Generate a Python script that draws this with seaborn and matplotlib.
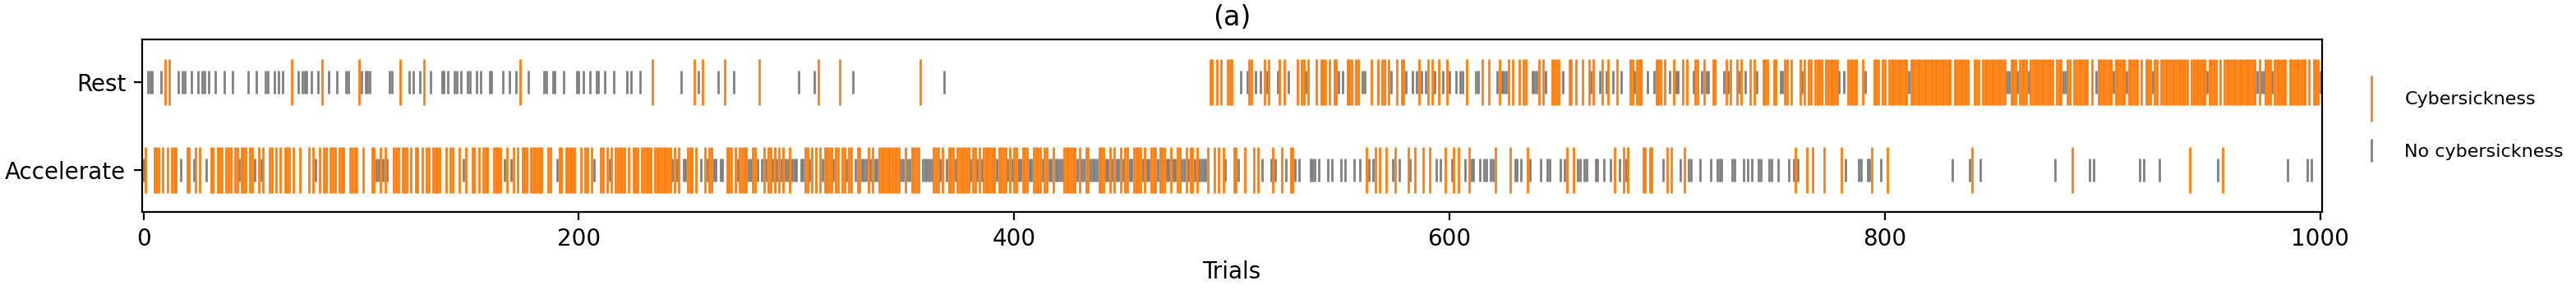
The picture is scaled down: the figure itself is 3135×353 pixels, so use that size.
import matplotlib
matplotlib.use('Agg')
import matplotlib.pyplot as plt
import seaborn as sns
import pandas as pd
from matplotlib.lines import Line2D

conditions = ['Accelerate', 'Rest']          # bottom row, top row
status_names = ['Cybersickness', 'No cybersickness']
palette = {'Cybersickness': '#ff7f0e', 'No cybersickness': 'gray'}
mark_sizes = {'Cybersickness': 400, 'No cybersickness': 100}

# trial numbers; a tuple is a run of consecutive trials
rest_sick = [10, 12, 68, 82, 99, 118, 129, 173, 234, 253, 257, 267, 283, 310, 320, 357,
             (490, 491), 493, 495, (498, 500), (508, 509), 515, 517, 522, 524, 530, (532, 533), 535,
             539, (541, 543), 545, (547, 548), (553, 555), (557, 558), 564, 567, (569, 570), 572, 576,
             (578, 579), 586, 590, 592, 595, 599, 608, 615, 618, 623, 627, 629, 632, (634, 635), 641,
             643, (647, 650), (655, 656), 658, 661, 664, 666, 670, 673, 677, (683, 684), (686, 688),
             (695, 697), 699, 703, 707, 709, (713, 714), 717, (721, 722), 727, 729, 732, 734, 738, 740,
             (744, 746), (749, 750), (754, 755), 757, 761, 763, (765, 766), (768, 771), (773, 778),
             (783, 787), 790, (795, 797), (799, 800), (802, 810), (812, 830), (832, 838), (841, 843),
             (845, 855), (858, 860), (862, 865), (867, 877), (879, 881), (884, 885), (887, 893), 895,
             (898, 904), (906, 910), (912, 916), 918, (920, 922), (924, 925), (927, 939), (941, 947),
             (949, 952), 954, (956, 970), 972, (975, 977), (979, 984), (986, 993), 995, (997, 999)]

rest_ok = [(2, 4), 8, 16, (18, 19), 22, 25, (27, 28), 30, 33, 37, 41, 48, 52, (56, 57), 60, 62, 64,
           71, (73, 75), 77, 80, 85, 89, (93, 94), 100, (102, 104), (113, 114), 122, 124, 127, 132,
           (137, 138), 140, (143, 144), 146, (149, 150), 153, 155, (159, 160), 165, 168, 171, 177,
           (184, 185), (188, 189), 193, (199, 200), 202, 205, (208, 209), 212, 216, 222, 224, 228,
           247, 255, 264, 271, 301, 308, 326, 368, 504, 507, 511, 513, 516, 521, 526, 534, 549, 551,
           (560, 561), 573, 580, 583, 585, 587, 589, 593, 597, 600, 603, (605, 606), (612, 613), 622,
           (624, 626), (638, 640), 644, 652, 665, 669, 672, 675, 679, 685, 691, 694, 701, (704, 705),
           712, 716, (718, 719), 726, 728, 733, 736, 741, (752, 753), 762, 779, 781, 791, 811,
           (856, 857), 861, 866, (882, 883), 897, 905, 911, 923, 948, 971, (973, 974), 978, 1000]

acc_sick = [1, (5, 7), 9, 11, (13, 15), (20, 21), 24, 26, (31, 32), (34, 36), (38, 40), (42, 43),
            (45, 47), (49, 50), 53, 55, (58, 59), 61, 63, (65, 67), 69, 72, 76, 78, 81, (83, 84),
            (86, 88), (90, 92), (95, 98), 101, (105, 106), 109, 111, (115, 117), (119, 121), 123,
            (125, 126), 128, (130, 131), (133, 136), 139, (141, 142), 145, 148, (151, 152), 154,
            (156, 158), (161, 164), 167, 170, 172, (174, 176), (178, 183), (186, 187), (191, 192),
            (194, 198), 201, (203, 204), 206, (210, 211), 213, 215, (217, 221), 223, (225, 227),
            (229, 233), (235, 242), 244, 246, (250, 252), 254, 258, (260, 261), (268, 270), 272,
            (274, 277), (280, 281), 285, (287, 288), 290, 292, 294, 297, (304, 305), 307, 309, 311,
            (313, 316), (318, 319), (321, 322), (324, 325), (328, 329), 333, 335, (338, 347), 350,
            (353, 356), (363, 365), 367, (370, 372), (374, 379), (381, 382), 384, (386, 391),
            (393, 396), 398, (400, 401), (404, 406), (409, 412), (414, 415), 418, (423, 428), 430,
            (433, 434), (439, 441), 444, 446, 449, (451, 452), (455, 458), 460, (463, 465),
            (467, 469), 472, (475, 476), 479, (481, 482), 484, 489, 492, 494, 496, (501, 502), 506,
            510, 512, 519, 523, (527, 528), 562, 566, 568, 571, 575, 581, 584, 588, 591, 598, 602,
            604, 609, 621, 628, 636, 654, 657, 676, 680, 682, (689, 690), (692, 693), 700, 702, 708,
            759, 764, 767, 772, 780, 794, 801, 840, 886, 940, 955]

acc_ok = [0, 17, 23, 29, 44, 51, 54, 79, (107, 108), 110, 112, 147, 166, 169, 190, 207, 214,
          243, 245, (248, 249), 256, 259, (262, 263), (265, 266), 273, (278, 279), 282, 284, 286,
          289, 291, 293, (295, 296), (298, 300), (302, 303), 306, 312, 317, 323, 327, (330, 332),
          334, (336, 337), (348, 349), (351, 352), (358, 362), 366, 369, 373, 380, 383, 385, 392,
          397, 399, (402, 403), (407, 408), 413, (416, 417), (419, 422), 429, (431, 432),
          (435, 438), (442, 443), 445, (447, 448), 450, (453, 454), 459, (461, 462), 466,
          (470, 471), (473, 474), (477, 478), 480, 483, (485, 488), 497, 503, 514, 518, 520, 525,
          529, 531, (536, 538), 540, 544, 546, 550, 552, 556, 559, 563, 565, 574, 577, 582, 594,
          596, 601, 607, (610, 611), 614, (616, 617), (619, 620), (630, 631), 633, 637, 642,
          (645, 646), 651, 653, (659, 660), (662, 663), (667, 668), 671, 674, 678, 681, 698, 706,
          (710, 711), 715, 720, (723, 725), (730, 731), 735, 737, 739, (742, 743), (747, 748), 751,
          756, 758, 760, 782, (788, 789), (792, 793), 798, 831, 839, 844, 878, 894, 896, 917, 919,
          926, 953, 985, 994, 996]


def expand(items):
    out = []
    for it in items:
        if isinstance(it, tuple):
            out.extend(range(it[0], it[1] + 1))
        else:
            out.append(it)
    return out


# gray first so the orange marks sit on top
groups = [('Rest', 'No cybersickness', rest_ok),
          ('Accelerate', 'No cybersickness', acc_ok),
          ('Rest', 'Cybersickness', rest_sick),
          ('Accelerate', 'Cybersickness', acc_sick)]
rows = []
for cond, status, trials in groups:
    for t in expand(trials):
        rows.append((t, conditions.index(cond), status))
df = pd.DataFrame(rows, columns=['trial', 'row', 'status'])

sns.set_style('ticks', {'axes.edgecolor': 'black', 'xtick.color': 'black', 'ytick.color': 'black',
                        'text.color': 'black', 'axes.labelcolor': 'black'})
plt.rcParams['font.family'] = ['DejaVu Sans']

fig, ax = plt.subplots(figsize=(15.675, 1.765), dpi=200)
fig.subplots_adjust(left=0.0551, right=0.9013, bottom=0.2691, top=0.864)

sns.scatterplot(data=df, x='trial', y='row', hue='status', size='status',
                sizes=mark_sizes, palette=palette, marker='|', linewidth=1,
                legend=False, ax=ax)

ax.set_xlim(-0.7, 1000.7)
ax.set_ylim(-0.48, 1.49)
ax.set_yticks(range(len(conditions)))
ax.set_yticklabels(conditions)
ax.set_xlabel('Trials')
ax.set_ylabel('')
ax.set_title('(a)')

handles = [Line2D([], [], color=palette['Cybersickness'], marker='|', linestyle='None',
                  markersize=20, markeredgewidth=1),
           Line2D([], [], color=palette['No cybersickness'], marker='|', linestyle='None',
                  markersize=10, markeredgewidth=1)]
ax.legend(handles, status_names, loc='center left', bbox_to_anchor=(1.007, 0.5),
          frameon=False, fontsize=8, labelspacing=1.95)

fig.savefig('out.png', dpi=200)
